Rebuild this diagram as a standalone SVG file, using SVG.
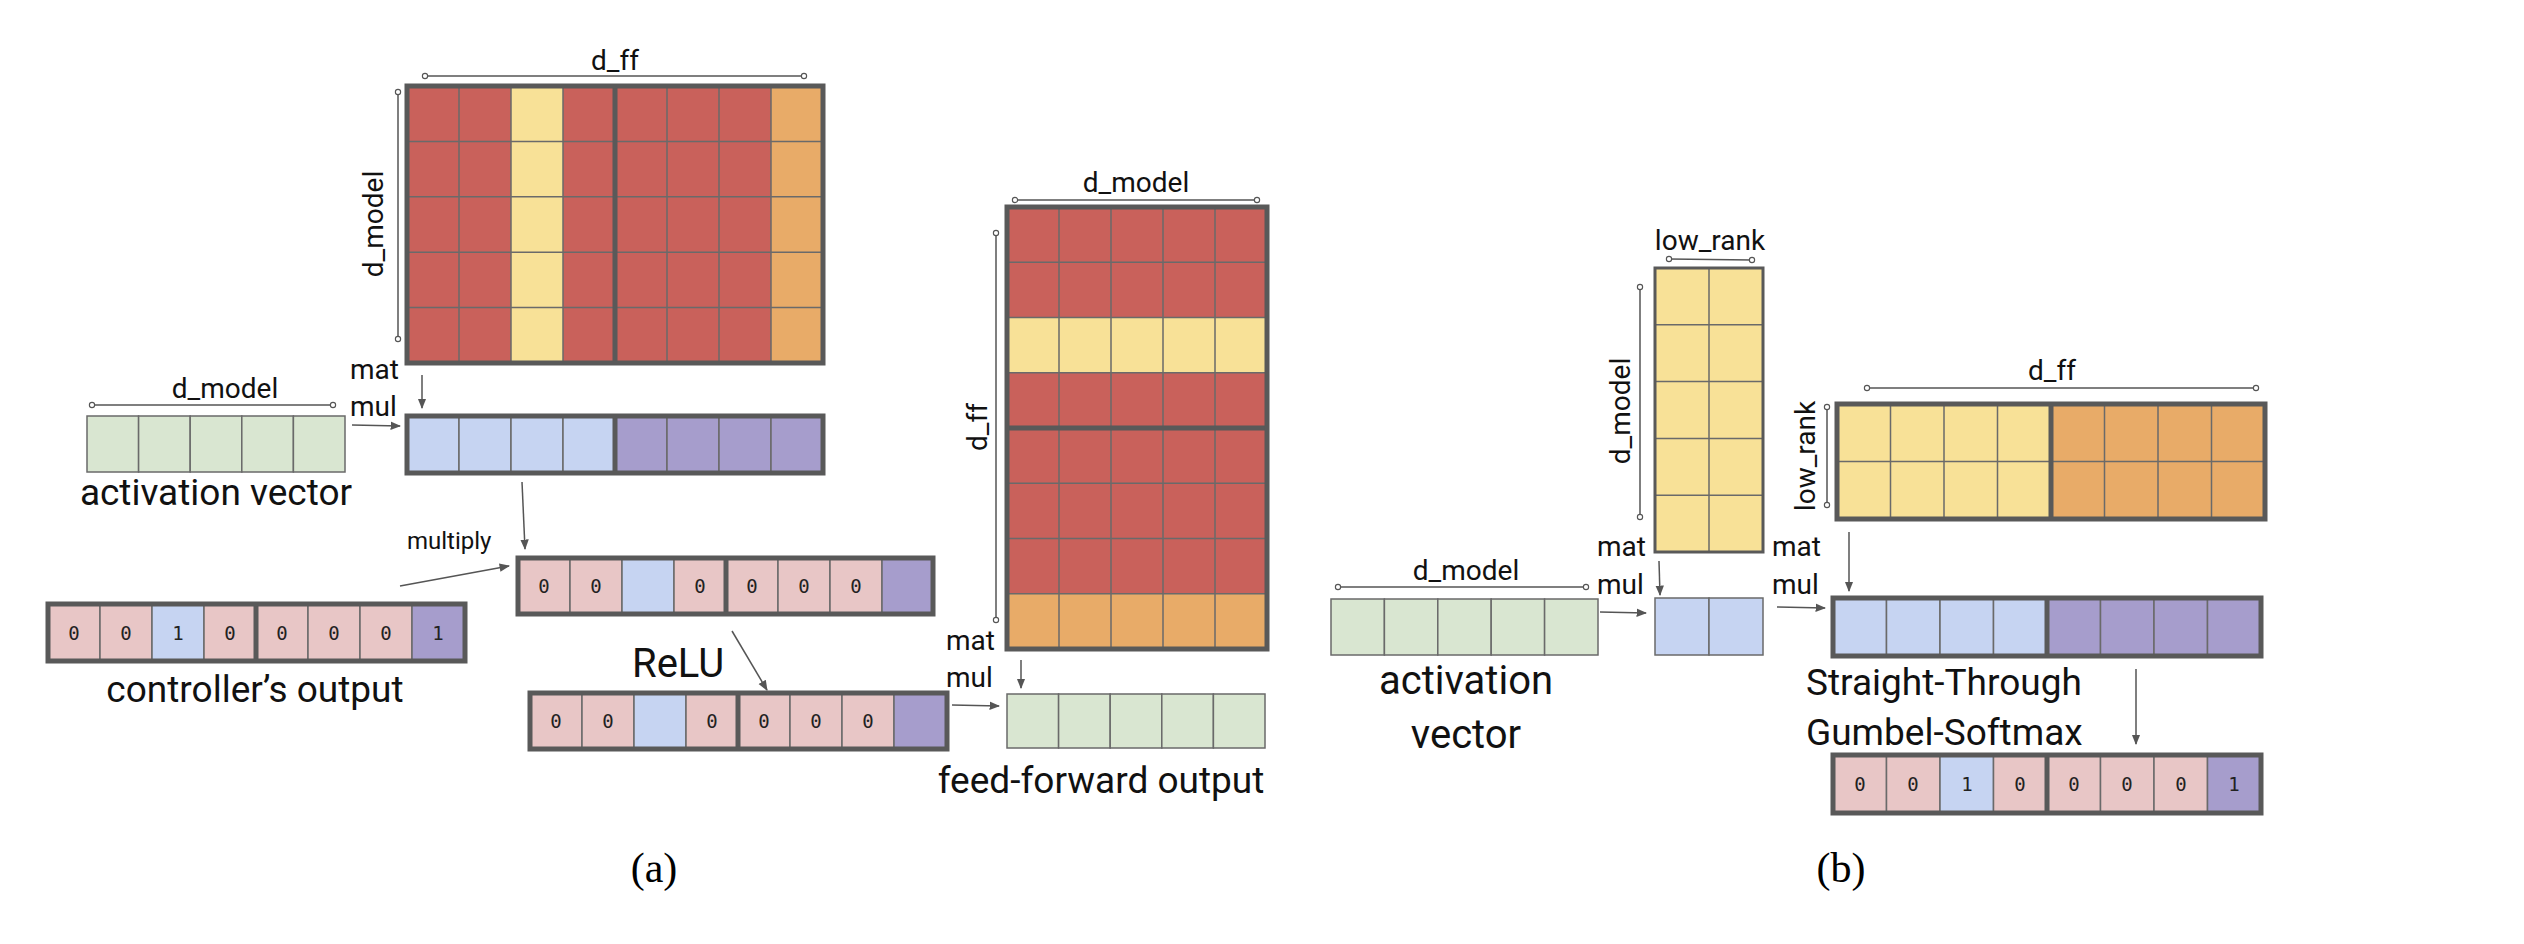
<svg xmlns="http://www.w3.org/2000/svg" width="2524" height="944" viewBox="0 0 2524 944">
<style>
.t{font-family:Roboto,"Liberation Sans",sans-serif;fill:#111}
.m{font-family:"DejaVu Sans Mono","Liberation Mono",monospace;font-size:19px;fill:#222;text-anchor:middle}
.c{stroke:#6a6a6a;stroke-width:1.5}
.o{fill:none;stroke:#595959;stroke-width:5}
.g{stroke:#6a6a6a;stroke-width:1.5}
.a{stroke:#555;stroke-width:1.5;fill:none;marker-end:url(#ah)}
.d{stroke:#555;stroke-width:1.5;fill:none;marker-start:url(#dm);marker-end:url(#dm)}
.R{fill:#c9615b}.Y{fill:#f8e197}.O{fill:#e8ab68}.G{fill:#d9e6d1}.B{fill:#c6d4f2}.P{fill:#a69dcc}.K{fill:#e8c6c6}
</style>
<defs>
<marker id="ah" viewBox="0 0 10 10" refX="9" refY="5" markerWidth="7" markerHeight="7" orient="auto"><path d="M0,1 L10,5 L0,9 z" fill="#555"/></marker>
<marker id="dm" viewBox="0 0 10 10" refX="5" refY="5" markerWidth="5" markerHeight="5"><circle cx="5" cy="5" r="3.5" fill="#fff" stroke="#555" stroke-width="1.5"/></marker>
</defs>
<rect width="2524" height="944" fill="#fff"/>

<g id="connectors">
<line class="d" x1="425" y1="76" x2="804" y2="76"/>
<line class="d" x1="398" y1="92" x2="398" y2="339"/>
<line class="d" x1="92" y1="405" x2="333" y2="405"/>
<line class="a" x1="422" y1="375" x2="422" y2="408"/>
<line class="a" x1="352" y1="425" x2="400" y2="426"/>
<line class="a" x1="522" y1="482" x2="525" y2="549"/>
<line class="a" x1="400" y1="586" x2="509" y2="566"/>
<line class="a" x1="732" y1="631" x2="767" y2="690"/>
<line class="a" x1="952" y1="705" x2="999" y2="706"/>
<line class="a" x1="1021" y1="660" x2="1021" y2="688"/>
<line class="d" x1="1015" y1="200" x2="1257" y2="200"/>
<line class="d" x1="996" y1="233" x2="996" y2="620"/>
<line class="d" x1="1669" y1="259" x2="1752" y2="260"/>
<line class="d" x1="1640" y1="287" x2="1640" y2="517"/>
<line class="d" x1="1338" y1="587" x2="1586" y2="587"/>
<line class="a" x1="1600" y1="612" x2="1646" y2="613"/>
<line class="a" x1="1659" y1="561" x2="1660" y2="595"/>
<line class="a" x1="1777" y1="607" x2="1825" y2="608"/>
<line class="a" x1="1849" y1="532" x2="1849" y2="591"/>
<line class="d" x1="1867" y1="388" x2="2256" y2="388"/>
<line class="d" x1="1827" y1="407" x2="1827" y2="505"/>
<line class="a" x1="2136" y1="669" x2="2136" y2="744"/>
</g>

<g id="labels">
<text class="t" x="615" y="70" font-size="28" text-anchor="middle">d_ff</text>
<text class="t" font-size="28" text-anchor="middle" transform="translate(383,224) rotate(-90)">d_model</text>
<text class="t" x="225" y="398" font-size="28" text-anchor="middle">d_model</text>
<text class="t" x="216" y="505" font-size="37" text-anchor="middle">activation vector</text>
<text class="t" x="350" y="379" font-size="28">mat</text>
<text class="t" x="350" y="416" font-size="28">mul</text>
<text class="t" x="407" y="549" font-size="24">multiply</text>
<text class="t" x="255" y="702" font-size="37" text-anchor="middle">controller’s output</text>
<text class="t" x="632" y="677" font-size="40">ReLU</text>
<text class="t" x="1101" y="793" font-size="37" text-anchor="middle">feed-forward output</text>
<text class="t" x="946" y="650" font-size="28">mat</text>
<text class="t" x="946" y="687" font-size="28">mul</text>
<text class="t" x="1136" y="192" font-size="28" text-anchor="middle">d_model</text>
<text class="t" font-size="28" text-anchor="middle" transform="translate(987,427) rotate(-90)">d_ff</text>
<text x="654" y="882" font-family="'Liberation Serif',serif" font-size="42" text-anchor="middle">(a)</text>
<text class="t" x="1710" y="250" font-size="28" text-anchor="middle">low_rank</text>
<text class="t" font-size="28" text-anchor="middle" transform="translate(1630,411) rotate(-90)">d_model</text>
<text class="t" x="1466" y="580" font-size="28" text-anchor="middle">d_model</text>
<text class="t" x="1466" y="694" font-size="40" text-anchor="middle">activation</text>
<text class="t" x="1466" y="748" font-size="40" text-anchor="middle">vector</text>
<text class="t" x="1597" y="556" font-size="28">mat</text>
<text class="t" x="1597" y="594" font-size="28">mul</text>
<text class="t" x="1772" y="556" font-size="28">mat</text>
<text class="t" x="1772" y="594" font-size="28">mul</text>
<text class="t" x="2052" y="380" font-size="28" text-anchor="middle">d_ff</text>
<text class="t" font-size="28" text-anchor="middle" transform="translate(1815,456) rotate(-90)">low_rank</text>
<text class="t" x="1806" y="695" font-size="37">Straight-Through</text>
<text class="t" x="1806" y="745" font-size="37">Gumbel-Softmax</text>
<text x="1841" y="882" font-family="'Liberation Serif',serif" font-size="42" text-anchor="middle">(b)</text>
</g>

<g id="matrixA">
<rect class="R" x="407" y="86" width="104" height="277"/>
<rect class="Y" x="511" y="86" width="52" height="277"/>
<rect class="R" x="563" y="86" width="208" height="277"/>
<rect class="O" x="771" y="86" width="52" height="277"/>
<path class="g" d="M459,86V363M511,86V363M563,86V363M667,86V363M719,86V363M771,86V363M407,141.4H823M407,196.8H823M407,252.2H823M407,307.6H823"/>
<line class="o" x1="615" y1="86" x2="615" y2="363"/>
<rect class="o" x="407" y="86" width="416" height="277"/>
</g>

<g id="activationA">
<rect class="G c" x="87" y="416" width="51.6" height="56"/><rect class="G c" x="138.6" y="416" width="51.6" height="56"/><rect class="G c" x="190.2" y="416" width="51.6" height="56"/><rect class="G c" x="241.8" y="416" width="51.6" height="56"/><rect class="G c" x="293.4" y="416" width="51.6" height="56"/>
</g>

<g id="hiddenA">
<rect class="B c" x="407" y="416" width="52" height="57"/><rect class="B c" x="459" y="416" width="52" height="57"/><rect class="B c" x="511" y="416" width="52" height="57"/><rect class="B c" x="563" y="416" width="52" height="57"/>
<rect class="P c" x="615" y="416" width="52" height="57"/><rect class="P c" x="667" y="416" width="52" height="57"/><rect class="P c" x="719" y="416" width="52" height="57"/><rect class="P c" x="771" y="416" width="52" height="57"/>
<line class="o" x1="615" y1="416" x2="615" y2="473"/><rect class="o" x="407" y="416" width="416" height="57"/>
</g>

<g id="multipliedA">
<rect class="K c" x="518" y="558" width="52" height="56"/><rect class="K c" x="570" y="558" width="52" height="56"/><rect class="B c" x="622" y="558" width="52" height="56"/><rect class="K c" x="674" y="558" width="52" height="56"/>
<rect class="K c" x="726" y="558" width="52" height="56"/><rect class="K c" x="778" y="558" width="52" height="56"/><rect class="K c" x="830" y="558" width="52" height="56"/><rect class="P c" x="882" y="558" width="51" height="56"/>
<line class="o" x1="726" y1="558" x2="726" y2="614"/><rect class="o" x="518" y="558" width="415" height="56"/>
<text class="m" x="544" y="593">0</text><text class="m" x="596" y="593">0</text><text class="m" x="700" y="593">0</text><text class="m" x="752" y="593">0</text><text class="m" x="804" y="593">0</text><text class="m" x="856" y="593">0</text>
</g>

<g id="controllerA">
<rect class="K c" x="48" y="604" width="52" height="57"/><rect class="K c" x="100" y="604" width="52" height="57"/><rect class="B c" x="152" y="604" width="52" height="57"/><rect class="K c" x="204" y="604" width="52" height="57"/>
<rect class="K c" x="256" y="604" width="52" height="57"/><rect class="K c" x="308" y="604" width="52" height="57"/><rect class="K c" x="360" y="604" width="52" height="57"/><rect class="P c" x="412" y="604" width="53" height="57"/>
<line class="o" x1="256" y1="604" x2="256" y2="661"/><rect class="o" x="48" y="604" width="417" height="57"/>
<text class="m" x="74" y="640">0</text><text class="m" x="126" y="640">0</text><text class="m" x="178" y="640">1</text><text class="m" x="230" y="640">0</text><text class="m" x="282" y="640">0</text><text class="m" x="334" y="640">0</text><text class="m" x="386" y="640">0</text><text class="m" x="438" y="640">1</text>
</g>

<g id="reluA">
<rect class="K c" x="530" y="693" width="52" height="56"/><rect class="K c" x="582" y="693" width="52" height="56"/><rect class="B c" x="634" y="693" width="52" height="56"/><rect class="K c" x="686" y="693" width="52" height="56"/>
<rect class="K c" x="738" y="693" width="52" height="56"/><rect class="K c" x="790" y="693" width="52" height="56"/><rect class="K c" x="842" y="693" width="52" height="56"/><rect class="P c" x="894" y="693" width="53" height="56"/>
<line class="o" x1="738" y1="693" x2="738" y2="749"/><rect class="o" x="530" y="693" width="417" height="56"/>
<text class="m" x="556" y="728">0</text><text class="m" x="608" y="728">0</text><text class="m" x="712" y="728">0</text><text class="m" x="764" y="728">0</text><text class="m" x="816" y="728">0</text><text class="m" x="868" y="728">0</text>
</g>

<g id="matrixA2">
<rect class="R" x="1007" y="207" width="260" height="110.5"/>
<rect class="Y" x="1007" y="317.5" width="260" height="55.25"/>
<rect class="R" x="1007" y="372.75" width="260" height="221"/>
<rect class="O" x="1007" y="593.75" width="260" height="55.25"/>
<path class="g" d="M1059,207V649M1111,207V649M1163,207V649M1215,207V649M1007,262.25H1267M1007,317.5H1267M1007,372.75H1267M1007,483.25H1267M1007,538.5H1267M1007,593.75H1267"/>
<line class="o" x1="1007" y1="428" x2="1267" y2="428"/>
<rect class="o" x="1007" y="207" width="260" height="442"/>
</g>

<g id="ffOutputA">
<rect class="G c" x="1007" y="694" width="51.6" height="54"/><rect class="G c" x="1058.6" y="694" width="51.6" height="54"/><rect class="G c" x="1110.2" y="694" width="51.6" height="54"/><rect class="G c" x="1161.8" y="694" width="51.6" height="54"/><rect class="G c" x="1213.4" y="694" width="51.6" height="54"/>
</g>

<g id="lowRankB">
<rect class="Y" x="1655" y="268" width="108" height="284"/>
<path class="g" d="M1709,268V552M1655,324.8H1763M1655,381.6H1763M1655,438.4H1763M1655,495.2H1763"/>
<rect x="1655" y="268" width="108" height="284" fill="none" stroke="#595959" stroke-width="3"/>
</g>

<g id="activationB">
<rect class="G c" x="1331" y="599" width="53.4" height="56"/><rect class="G c" x="1384.4" y="599" width="53.4" height="56"/><rect class="G c" x="1437.8" y="599" width="53.4" height="56"/><rect class="G c" x="1491.2" y="599" width="53.4" height="56"/><rect class="G c" x="1544.6" y="599" width="53.4" height="56"/>
</g>

<g id="smallB">
<rect class="B c" x="1655" y="598" width="54" height="57"/><rect class="B c" x="1709" y="598" width="54" height="57"/>
</g>

<g id="dffB">
<rect class="Y" x="1837" y="404" width="214" height="115"/>
<rect class="O" x="2051" y="404" width="214" height="115"/>
<path class="g" d="M1890.5,404V519M1944,404V519M1997.5,404V519M2104.5,404V519M2158,404V519M2211.5,404V519M1837,461.5H2265"/>
<line class="o" x1="2051" y1="404" x2="2051" y2="519"/>
<rect class="o" x="1837" y="404" width="428" height="115"/>
</g>

<g id="hiddenB">
<rect class="B c" x="1833" y="598" width="53.5" height="58"/><rect class="B c" x="1886.5" y="598" width="53.5" height="58"/><rect class="B c" x="1940" y="598" width="53.5" height="58"/><rect class="B c" x="1993.5" y="598" width="53.5" height="58"/>
<rect class="P c" x="2047" y="598" width="53.5" height="58"/><rect class="P c" x="2100.5" y="598" width="53.5" height="58"/><rect class="P c" x="2154" y="598" width="53.5" height="58"/><rect class="P c" x="2207.5" y="598" width="53.5" height="58"/>
<line class="o" x1="2047" y1="598" x2="2047" y2="656"/><rect class="o" x="1833" y="598" width="428" height="58"/>
</g>

<g id="gumbelB">
<rect class="K c" x="1833" y="755" width="53.5" height="58"/><rect class="K c" x="1886.5" y="755" width="53.5" height="58"/><rect class="B c" x="1940" y="755" width="53.5" height="58"/><rect class="K c" x="1993.5" y="755" width="53.5" height="58"/>
<rect class="K c" x="2047" y="755" width="53.5" height="58"/><rect class="K c" x="2100.5" y="755" width="53.5" height="58"/><rect class="K c" x="2154" y="755" width="53.5" height="58"/><rect class="P c" x="2207.5" y="755" width="53.5" height="58"/>
<line class="o" x1="2047" y1="755" x2="2047" y2="813"/><rect class="o" x="1833" y="755" width="428" height="58"/>
<text class="m" x="1860" y="791">0</text><text class="m" x="1913" y="791">0</text><text class="m" x="1967" y="791">1</text><text class="m" x="2020" y="791">0</text><text class="m" x="2074" y="791">0</text><text class="m" x="2127" y="791">0</text><text class="m" x="2181" y="791">0</text><text class="m" x="2234" y="791">1</text>
</g>
</svg>
